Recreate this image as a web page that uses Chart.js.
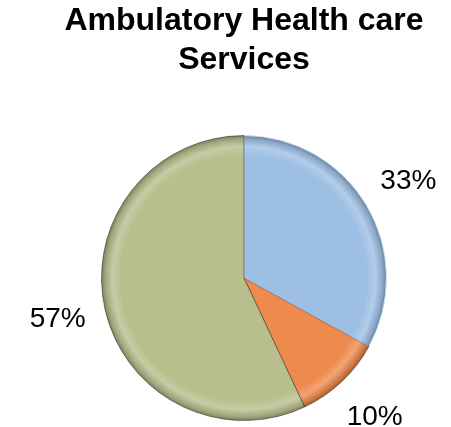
<!DOCTYPE html>
<html>
<head>
<meta charset="utf-8">
<script src="https://cdn.jsdelivr.net/npm/chart.js@4"></script>
<style>
  html, body { margin: 0; padding: 0; background: #fff; }
  #wrap { width: 451px; height: 427px; }
</style>
</head>
<body>
<div id="wrap"><canvas id="pieChart"></canvas></div>
<script>
const categories = ['Category 1', 'Category 2', 'Category 3'];
const shares = [33, 10, 57];
const sliceColors = ['#9ebfe4', '#ee8a4e', '#b9be8d'];
const titleLines = ['Ambulatory Health care', 'Services'];

function shade(hex, amt) {
    const n = parseInt(hex.slice(1), 16);
    let r = (n >> 16) & 255, g = (n >> 8) & 255, b = n & 255;
    const f = v => Math.max(0, Math.min(255, Math.round(amt > 0 ? v + (255 - v) * amt : v * (1 + amt))));
    return 'rgb(' + f(r) + ',' + f(g) + ',' + f(b) + ')';
}

// bevel look: flat face, light ridge near the rim, dark outer edge
function bevelFill(context) {
    const base = sliceColors[context.dataIndex];
    const area = context.chart.chartArea;
    if (!area) return base;
    const cx = (area.left + area.right) / 2;
    const cy = (area.top + area.bottom) / 2;
    const r = Math.min(area.right - area.left, area.bottom - area.top) / 2;
    const g = context.chart.ctx.createRadialGradient(cx, cy, 0, cx, cy, r);
    g.addColorStop(0, base);
    g.addColorStop(0.86, base);
    g.addColorStop(0.92, shade(base, 0.22));
    g.addColorStop(0.97, shade(base, -0.12));
    g.addColorStop(1, shade(base, -0.35));
    return g;
}

const pctLabels = {
    id: 'pctLabels',
    afterDatasetsDraw(chart) {
        const ctx = chart.ctx;
        const arcs = chart.getDatasetMeta(0).data;
        ctx.save();
        ctx.font = '28px "Liberation Sans", Arial, sans-serif';
        ctx.fillStyle = '#000';
        ctx.textAlign = 'center';
        ctx.textBaseline = 'middle';
        arcs.forEach((arc, i) => {
            const mid = (arc.startAngle + arc.endAngle) / 2;
            const r = arc.outerRadius * 1.34;
            ctx.fillText(shares[i] + '%', arc.x + Math.cos(mid) * r, arc.y + Math.sin(mid) * r);
        });
        ctx.restore();
    }
};

new Chart(document.getElementById('pieChart').getContext('2d'), {
    type: 'pie',
    data: {
        labels: categories,
        datasets: [{
            data: shares,
            backgroundColor: bevelFill,
            borderColor: ['rgba(220, 235, 250, 0.8)', 'rgba(60, 40, 20, 0.45)', 'rgba(30, 30, 20, 0.5)'],
            borderWidth: 1
        }]
    },
    options: {
        responsive: true,
        maintainAspectRatio: false,
        animation: false,
        layout: { padding: { left: 37, right: 0, top: 0, bottom: 6 } },
        plugins: {
            legend: { display: false },
            tooltip: { enabled: false },
            title: {
                display: true,
                text: titleLines,
                color: '#000',
                font: { family: '"Liberation Sans", Arial, sans-serif', size: 32, weight: 'bold', lineHeight: 1.235 },
                padding: { top: 1, bottom: 55 }
            }
        }
    },
    plugins: [pctLabels]
});
</script>
</body>
</html>
